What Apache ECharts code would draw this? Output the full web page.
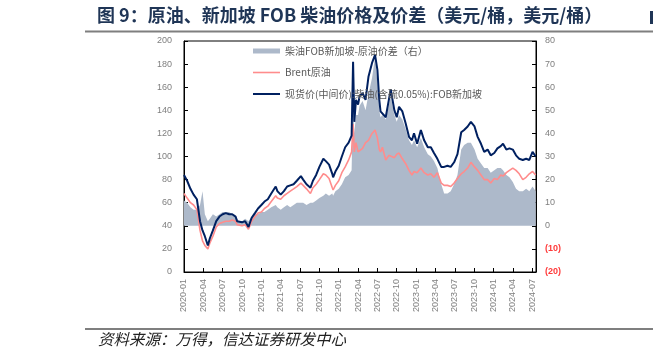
<!DOCTYPE html>
<html>
<head>
<meta charset="utf-8">
<script src="https://cdn.jsdelivr.net/npm/echarts@6/dist/echarts.min.js"></script>
<style>
html,body{margin:0;padding:0;background:#fff;}
#c{width:653px;height:359px;}
</style>
</head>
<body>
<div id="c"></div>
<script>
// ---- data ----
const dates = [
'2020-01-01','2020-01-16','2020-02-01','2020-02-15','2020-03-01','2020-03-16','2020-03-28','2020-04-08','2020-04-22','2020-05-01',
'2020-05-16','2020-06-01','2020-06-16','2020-07-01','2020-07-16','2020-08-01','2020-08-16','2020-09-01','2020-09-08','2020-09-16',
'2020-10-01','2020-10-16','2020-11-01','2020-11-16','2020-12-01','2020-12-16','2021-01-01','2021-01-16','2021-02-01','2021-02-16',
'2021-03-08','2021-03-16','2021-04-01','2021-04-16','2021-05-01','2021-05-16','2021-06-01','2021-06-16','2021-07-05','2021-07-16',
'2021-08-01','2021-08-20','2021-09-01','2021-09-16','2021-10-01','2021-10-20','2021-11-01','2021-11-16','2021-12-01','2021-12-05',
'2021-12-16','2022-01-01','2022-01-16','2022-02-01','2022-02-16','2022-03-01','2022-03-08','2022-03-14','2022-03-22','2022-04-01',
'2022-04-08','2022-04-22','2022-05-06','2022-05-20','2022-06-06','2022-06-20','2022-07-01','2022-07-10','2022-07-16','2022-07-25',
'2022-08-10','2022-08-25','2022-09-03','2022-09-20','2022-10-01','2022-10-12','2022-10-28','2022-11-12','2022-11-28','2022-12-12',
'2022-12-22','2023-01-06','2023-01-24','2023-02-08','2023-02-24','2023-03-10','2023-03-25','2023-04-10','2023-04-28','2023-05-12',
'2023-05-28','2023-06-12','2023-06-28','2023-07-14','2023-08-01','2023-08-15','2023-09-01','2023-09-16','2023-10-03','2023-10-18',
'2023-11-03','2023-11-18','2023-12-04','2023-12-19','2024-01-05','2024-01-20','2024-02-05','2024-02-15','2024-03-01','2024-03-16',
'2024-04-01','2024-04-16','2024-05-01','2024-05-18','2024-06-03','2024-06-18','2024-07-03','2024-07-18'
];
const diesel = [
84,79,72,67,63,44,36,31,23,29,
36,44,48,50,51,50,50,48,44,43,
43,44,39,47,51,55,58,61,63,68,
74,70,67,70,74,75,76,79,83,80,
76,73,79,84,91,98,96,93,85,82,
87,92,100,108,112,118,182,130,149,145,
152,155,149,169,181,188,175,149,139,140,
134,149,158,140,134,143,139,129,117,114,
120,111,123,114,108,108,103,98,91,91,
92,91,95,102,121,123,126,130,126,117,
111,104,106,101,103,107,109,111,106,107,
106,101,98,97,98,97,104,100
];
const brent = [
68,64,60,58,54,36,27,23,20,25,
31,39,42,43,44,44,45,44,41,41,
40,41,37,44,48,51,52,55,57,61,
66,64,63,66,68,70,72,74,77,75,
72,68,73,76,80,85,84,81,73,71,
75,79,86,91,97,104,128,104,112,104,
103,107,112,114,120,123,116,106,104,108,
97,101,100,99,102,103,98,94,88,84,
87,86,90,86,84,85,82,86,77,75,
75,74,77,81,85,87,90,95,91,88,
84,80,80,77,81,80,84,83,86,88,
90,88,85,80,82,85,87,84
];
const spread = [
11,10,8,7,7,9,15,5,2,3,
5,4,5,6,6,6,5,4,3,2,
2,3,2,4,5,5,6,6,7,8,
9,8,7,8,9,8,9,10,10,10,
9,10,10,11,12,13,14,13,14,13,
15,16,18,21,22,24,55,40,48,48,
52,54,50,57,64,73,62,50,47,48,
46,52,56,48,45,48,46,42,37,35,
37,34,38,34,31,30,28,25,18,14,
14,15,18,22,33,35,36,36,33,29,
27,25,25,23,24,25,25,24,22,21,
19,16,15,15,16,15,17,15
];
const xTickLabels = ['2020-01','2020-04','2020-07','2020-10','2021-01','2021-04','2021-07','2021-10','2022-01','2022-04',
'2022-07','2022-10','2023-01','2023-04','2023-07','2023-10','2024-01','2024-04','2024-07'];
const titleText = '图 9：原油、新加坡 FOB 柴油价格及价差（美元/桶，美元/桶）';
const sourceText = '资料来源：万得，信达证券研发中心';
const nameSpread = '柴油FOB新加坡-原油价差（右）';
const nameBrent = 'Brent原油';
const nameDiesel = '现货价(中间价):柴油(含硫0.05%):FOB新加坡';

// month index since 2020-01 (fractional)
function toM(s){
  const [y,m,d] = s.split('-').map(Number);
  const dim = new Date(y, m, 0).getDate();
  return (y-2020)*12 + (m-1) + (d-1)/dim;
}
const xs = dates.map(toM);
const pair = arr => arr.map((v,i)=>[xs[i], v]);

const chart = echarts.init(document.getElementById('c'), null, {renderer:'canvas', width:653, height:359, devicePixelRatio:1});
const tickFont = {fontFamily:'"Liberation Sans", Arial, sans-serif', fontSize:9, color:'#7F7F7F'};
chart.setOption({
  animation:false,
  backgroundColor:'#fff',
  grid:{left:184, right:117, top:41, bottom:87, show:true, borderColor:'#000', borderWidth:1, backgroundColor:'transparent'},
  legend:{
    orient:'vertical', left:253, top:45, padding:0, itemWidth:27, itemHeight:12, itemGap:9.5,
    textStyle:{fontFamily:'"Noto Sans CJK SC", sans-serif', fontSize:10, color:'#595959', lineHeight:12},
    data:[
      {name:nameSpread, icon:'path://M0 0H27V5H0Z'},
      {name:nameBrent, icon:'path://M0 0H27V1.6H0Z'},
      {name:nameDiesel, icon:'path://M0 0H27V2H0Z'}
    ]
  },
  xAxis:{
    type:'value', min:0, max:54.6, interval:3,
    axisLine:{show:true, lineStyle:{color:'#000', width:1}},
    axisTick:{show:true, inside:true, length:4, lineStyle:{color:'#000'}},
    splitLine:{show:false},
    axisLabel:Object.assign({rotate:90, margin:7, showMaxLabel:false,
      formatter:function(v){ const k = Math.round(v/3); return Math.abs(v-k*3)<1e-6 && xTickLabels[k] ? xTickLabels[k] : ''; }}, tickFont)
  },
  yAxis:[
    {type:'value', min:0, max:200, interval:20, position:'left',
     axisLine:{show:true, lineStyle:{color:'#000'}},
     axisTick:{show:true, inside:true, length:4, lineStyle:{color:'#000'}},
     splitLine:{show:false},
     axisLabel:Object.assign({margin:12}, tickFont)},
    {type:'value', min:-20, max:80, interval:10, position:'right',
     axisLine:{show:true, lineStyle:{color:'#000'}},
     axisTick:{show:true, inside:true, length:4, lineStyle:{color:'#000'}},
     splitLine:{show:false},
     axisLabel:Object.assign({margin:9,
       formatter:function(v){ return v<0 ? '{n|(' + Math.abs(v) + ')}' : String(v); },
       rich:{n:{color:'#FF3B3B', fontFamily:'"Liberation Sans", Arial, sans-serif', fontSize:9, fontWeight:'bold'}}}, tickFont)}
  ],
  series:[
    {name:nameSpread, type:'line', yAxisIndex:1, data:pair(spread), symbol:'none',
     color:'#ADB9CA', lineStyle:{width:0, color:'#ADB9CA'}, areaStyle:{color:'#ADB9CA', opacity:1}, z:1},
    {name:nameBrent, type:'line', yAxisIndex:0, data:pair(brent), symbol:'none',
     color:'#FF8C8C', lineStyle:{width:1.6, color:'#FF8C8C'}, z:2},
    {name:nameDiesel, type:'line', yAxisIndex:0, data:pair(diesel), symbol:'none',
     color:'#002060', lineStyle:{width:2, color:'#002060'}, z:3}
  ],
  graphic:[
    {type:'text', left:97, top:6, style:{text:titleText, font:'bold 18px "Noto Sans CJK SC", sans-serif', fill:'#1F3556'}},
    {type:'rect', shape:{x:650, y:11, width:3, height:13}, style:{fill:'#1F3556'}},
    {type:'line', shape:{x1:85, y1:31.5, x2:653, y2:31.5}, style:{stroke:'#7F7F7F', lineWidth:2}},
    {type:'line', shape:{x1:85, y1:329, x2:653, y2:329}, style:{stroke:'#7F7F7F', lineWidth:2}},
    {type:'text', left:98, top:331, style:{text:sourceText, font:'italic 15.5px "Noto Sans CJK SC", sans-serif', fill:'#222'}}
  ]
});
</script>
</body>
</html>
